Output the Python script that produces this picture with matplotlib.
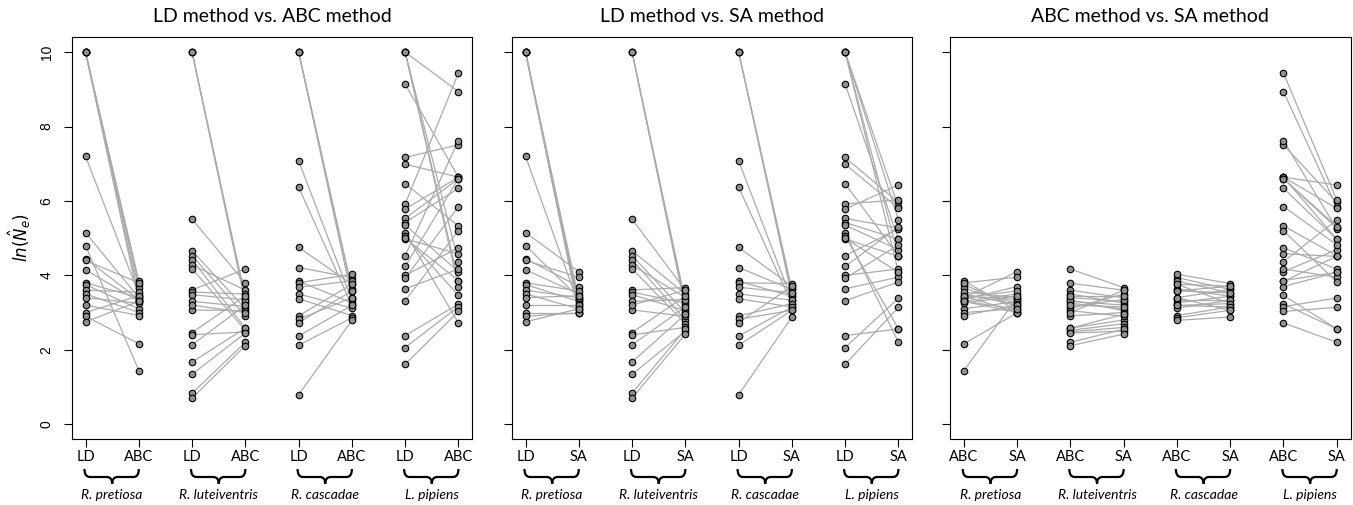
import numpy as np
import matplotlib
matplotlib.use('Agg')
import matplotlib.pyplot as plt
from matplotlib.path import Path
from matplotlib.patches import PathPatch
import matplotlib.transforms as mtransforms

# ln(Ne) estimates per population, one list per species and method
pre_ld = [10, 10, 10, 10, 10, 7.2, 5.15, 4.8, 4.45, 4.4, 4.15, 3.8, 3.75, 3.6, 3.5, 3.4, 3.2, 3.0, 2.9, 2.75]
pre_abc = [3.85, 3.75, 3.65, 3.45, 3.3, 3.5, 3.4, 1.44, 3.35, 3.8, 3.3, 3.4, 3.1, 3.55, 3.0, 3.25, 2.92, 3.45, 2.16, 3.3]
pre_sa = [3.05, 3.15, 3.25, 3.35, 3.0, 3.2, 4.1, 3.4, 3.7, 3.95, 3.5, 3.58, 3.3, 3.4, 3.1, 3.45, 3.2, 3.0, 2.99, 3.1]

lut_ld = [10, 10, 10, 5.51, 4.66, 4.53, 4.42, 4.28, 4.18, 3.61, 3.55, 3.48, 3.3, 3.07, 2.46, 2.4, 2.13, 1.67, 1.34, 0.83, 0.7, 3.2]
lut_abc = [3.3, 3.4, 3.25, 3.79, 3.1, 2.91, 2.58, 3.6, 2.52, 4.17, 3.5, 3.34, 3.16, 3.05, 3.45, 2.48, 3.2, 2.58, 2.45, 2.2, 2.11, 3.0]
lut_sa = [3.2, 3.3, 3.1, 3.6, 3.5, 3.0, 2.8, 3.4, 2.7, 3.67, 3.25, 3.05, 3.35, 2.9, 3.45, 2.6, 3.15, 2.95, 2.5, 2.55, 2.42, 3.6]

cas_ld = [10, 10, 10, 7.08, 6.37, 4.75, 4.21, 3.84, 3.8, 3.68, 3.5, 3.37, 2.91, 2.82, 2.73, 2.37, 2.12, 0.79]
cas_abc = [3.58, 3.4, 3.64, 3.33, 3.19, 3.76, 3.94, 3.26, 4.03, 3.85, 3.12, 2.92, 3.76, 3.4, 3.58, 3.19, 2.86, 2.79]
cas_sa = [3.53, 3.62, 3.44, 3.33, 3.24, 3.71, 3.62, 3.44, 3.78, 3.53, 3.33, 3.15, 3.24, 3.06, 3.71, 3.15, 3.06, 2.88]

pip_ld = [10, 10, 10, 10, 9.14, 7.17, 6.99, 6.46, 5.92, 5.78, 5.53, 5.42, 5.35, 5.15, 5.05, 4.98, 4.53, 4.24, 4.0, 3.92, 3.64, 3.32, 2.38, 2.06, 1.61, 5.0]
pip_abc = [8.94, 4.37, 3.84, 3.7, 6.64, 7.51, 6.64, 5.33, 9.44, 6.64, 6.6, 6.34, 4.1, 2.72, 3.46, 4.58, 7.62, 6.6, 4.74, 5.85, 4.17, 5.2, 3.23, 3.16, 3.03, 3.86]
pip_sa = [5.83, 5.49, 4.51, 4.08, 4.97, 5.96, 5.8, 4.53, 6.03, 6.43, 5.27, 4.97, 4.69, 2.2, 2.56, 4.51, 5.25, 5.31, 4.17, 4.82, 3.95, 3.82, 2.56, 3.39, 3.14, 4.08]

species = ['R. pretiosa', 'R. luteiventris', 'R. cascadae', 'L. pipiens']
data = {
    'LD': [pre_ld, lut_ld, cas_ld, pip_ld],
    'ABC': [pre_abc, lut_abc, cas_abc, pip_abc],
    'SA': [pre_sa, lut_sa, cas_sa, pip_sa],
}
panels = [('LD', 'ABC'), ('LD', 'SA'), ('ABC', 'SA')]
yticks = [0, 2, 4, 6, 8, 10]

W, H = 1353, 505
fig = plt.figure(figsize=(W / 100, H / 100), dpi=100)

font = 'Lato'
ax_hpx = 439 - 37.3
ax_w = 400.6 / W
ax_h = ax_hpx / H
lefts = [71.7, 511.7, 950.0]


def brace(ax, x0, x1):
    trans = mtransforms.blended_transform_factory(ax.transData, ax.transAxes)
    ytop, yh, ytip = -30 / ax_hpx, -38 / ax_hpx, -45 / ax_hpx
    xm = (x0 + x1) / 2
    r = 0.1
    for a, s in ((x0 - 0.02, 1), (x1, -1)):
        verts = [(a, ytop), (a, yh), (a + s * r, yh), (xm - s * r, yh), (xm, yh), (xm, ytip)]
        codes = [Path.MOVETO, Path.CURVE3, Path.CURVE3, Path.LINETO, Path.CURVE3, Path.CURVE3]
        ax.add_patch(PathPatch(Path(verts, codes), transform=trans, fill=False,
                               lw=1.6, color='black', clip_on=False))


for p, (m1, m2) in enumerate(panels):
    ax = fig.add_axes([lefts[p] / W, 1 - 439 / H, ax_w, ax_h])
    trans = mtransforms.blended_transform_factory(ax.transData, ax.transAxes)
    xt = []
    xl = []
    for i, sp in enumerate(species):
        xa, xb = 2 * i + 1, 2 * i + 2
        ya = data[m1][i]
        yb = data[m2][i]
        for a, b in zip(ya, yb):
            ax.plot([xa, xb], [a, b], color='#ababab', lw=0.9, zorder=1)
        ax.scatter([xa] * len(ya), ya, s=22, facecolor='#909090', edgecolor='black', lw=0.8, zorder=3)
        ax.scatter([xb] * len(yb), yb, s=22, facecolor='#909090', edgecolor='black', lw=0.8, zorder=3)
        xt += [xa, xb]
        xl += [m1, m2]
        brace(ax, xa, xb)
        ax.text((xa + xb) / 2, -56 / ax_hpx, sp, transform=trans,
                ha='center', va='center', fontsize=10, style='italic', family=font)
    ax.set_xlim(0.74, 8.26)
    ax.set_ylim(-0.4, 10.4)
    ax.set_xticks(xt)
    ax.set_xticklabels(xl, family=font, fontsize=10.5)
    ax.set_yticks(yticks)
    if p == 0:
        ax.set_yticklabels([str(v) for v in yticks], rotation=90, va='center', fontsize=10, family='Liberation Sans')
    else:
        ax.set_yticklabels([])
    ax.tick_params(axis='both', direction='out', length=6, width=0.8)
    ax.tick_params(axis='x', pad=2)
    ax.tick_params(axis='y', pad=7)
    for s in ax.spines.values():
        s.set_linewidth(0.8)
    ax.set_title(f'{m1} method vs. {m2} method', family=font, fontsize=14, pad=11)

fig.text(20 / W, 1 - 238 / H, r'$ln(\hat{N}_e)$', rotation=90, ha='center', va='center', fontsize=12)

fig.savefig('out.png', dpi=100)
